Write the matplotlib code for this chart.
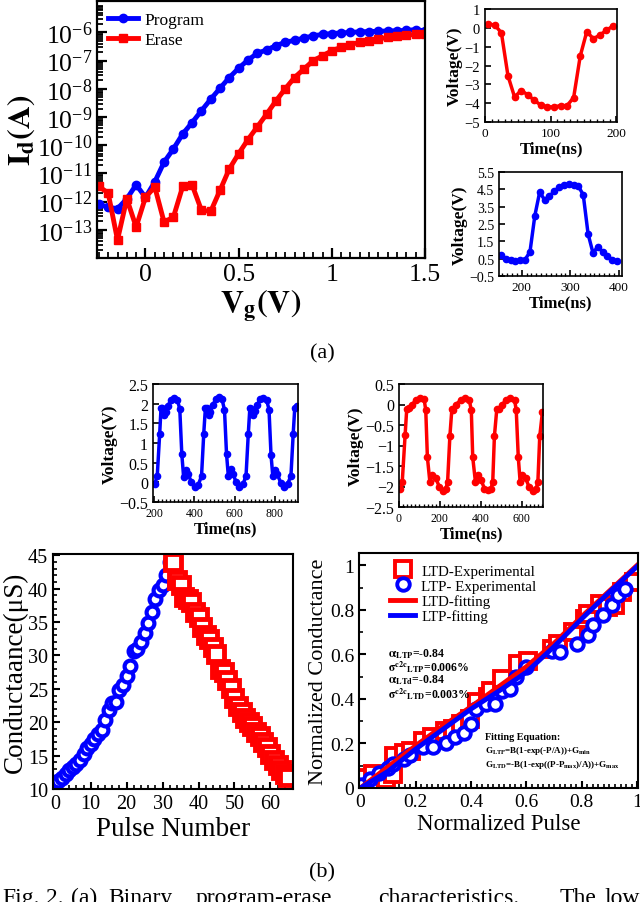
import matplotlib
matplotlib.use("Agg")
import matplotlib.pyplot as plt
from matplotlib.ticker import AutoMinorLocator, FuncFormatter, LogLocator, MultipleLocator, NullFormatter
import numpy as np

plt.rcParams["font.family"] = ["Liberation Serif", "DejaVu Serif"]
plt.rcParams["mathtext.fontset"] = "stix"

W, H = 640, 903
BLUE = "#0000ff"
RED = "#ff0000"

# (a) Id-Vg transfer curves
vg = [-0.25, -0.2, -0.15, -0.1, -0.05, 0.0, 0.05, 0.1, 0.15, 0.2, 0.25, 0.3, 0.35, 0.4, 0.45, 0.5,
      0.55, 0.6, 0.65, 0.7, 0.75, 0.8, 0.85, 0.9, 0.95, 1.0, 1.05, 1.1, 1.15, 1.2, 1.25, 1.3,
      1.35, 1.4, 1.45, 1.5]
program_log_id = [-12.1, -12.2, -12.25, -11.9, -11.4, -11.85, -11.3, -10.6, -10.13, -9.6, -9.2, -8.78,
                  -8.37, -7.98, -7.6, -7.27, -6.98, -6.74, -6.62, -6.47, -6.35, -6.28, -6.2, -6.12,
                  -6.07, -6.04, -6.02, -6.0, -5.98, -5.97, -5.96, -5.95, -5.94, -5.93, -5.9, -5.95]
erase_log_id = [-11.46, -11.7, -13.36, -11.9, -12.9, -11.85, -11.48, -12.73, -12.55, -11.46, -11.4,
                -12.3, -12.35, -11.6, -10.84, -10.3, -9.8, -9.35, -8.9, -8.43, -8.0, -7.6, -7.3,
                -7.0, -6.83, -6.65, -6.53, -6.43, -6.35, -6.29, -6.23, -6.18, -6.14, -6.1, -6.07, -6.05]

# (a) erase / program pulse shapes
erase_t = [5, 15, 25, 35, 45, 55, 65, 75, 85, 95, 105, 115, 125, 135, 145, 155, 165, 175, 185, 195]
erase_v = [0.2, 0.15, -0.27, -2.55, -3.67, -3.33, -3.55, -3.85, -4.1, -4.2, -4.2, -4.13, -4.13,
           -3.7, -1.5, -0.2, -0.58, -0.38, -0.13, 0.1]
prog_t = [157, 167, 177, 187, 197, 207, 217, 227, 237, 247, 257, 267, 277, 287, 297, 307, 317,
          327, 337, 347, 357, 367, 377, 387, 397]
prog_v = [0.7, 0.5, 0.4, 0.38, 0.4, 0.45, 0.9, 2.98, 4.34, 3.9, 4.1, 4.38, 4.62, 4.74, 4.78, 4.74,
          4.68, 4.18, 1.92, 0.84, 1.18, 0.9, 0.64, 0.44, 0.34]

# (b) potentiation / depression pulse trains
pot_t = [203, 216, 228, 235, 242, 249, 258, 270, 284, 300, 316, 328, 338, 347, 358, 370, 386, 402, 420,
         436, 447, 455, 463, 471, 480, 492, 506, 522, 538, 550, 560, 569, 580, 592, 608, 624, 642,
         657, 668, 676, 684, 692, 701, 713, 727, 743, 759, 771, 781, 790, 801, 813, 829, 845, 863,
         880, 891, 899, 908]
pot_v = [-0.04, 0.15, 1.22, 1.9, 1.88, 1.7, 1.8, 1.95, 2.1, 2.15, 2.1, 1.86, 0.72, 0.14, 0.32, 0.2, 0.0,
         -0.12, -0.06,
         0.16, 1.24, 1.88, 1.9, 1.7, 1.8, 1.96, 2.11, 2.16, 2.11, 1.84, 0.73, 0.16, 0.33, 0.22, 0.0,
         -0.13, -0.05,
         0.17, 1.22, 1.9, 1.87, 1.72, 1.82, 1.97, 2.12, 2.15, 2.1, 1.85, 0.7, 0.15, 0.31, 0.2, -0.01,
         -0.12, -0.05,
         0.17, 1.22, 1.9, 1.95]
dep_t = [7, 16, 30, 38, 49, 62, 82, 102, 123, 131, 139, 151, 161, 180, 197, 216, 230, 238, 249, 259,
         266, 279, 303, 325, 344, 354, 361, 374, 385, 402, 418, 434, 451, 459, 467, 479, 492, 505,
         525, 544, 566, 574, 584, 593, 603, 620, 636, 656, 672, 680, 689, 702]
dep_v = [-2.05, -1.88, -0.74, -0.1, -0.08, -0.02, 0.11, 0.15, 0.13, -0.14, -1.29, -1.88, -1.71, -1.8,
         -2.0, -2.12, -2.05, -1.88, -0.78, -0.1, -0.14, 0.0, 0.11, 0.15, 0.11, -0.14, -1.29, -1.88,
         -1.71, -1.84, -2.05, -2.09, -2.05, -1.88, -0.78, -0.1, -0.1, 0.0, 0.11, 0.15, 0.11, -0.14,
         -1.29, -1.88, -1.71, -1.8, -2.0, -2.12, -2.05, -1.88, -0.78, -0.19]

# (b) conductance vs pulse number
ltp_n = list(range(1, 34))
ltp_g = [11.2, 11.6, 12.3, 12.9, 13.3, 13.7, 14.3, 15.2, 16.2, 16.8, 17.5, 18.2, 18.8, 20.3, 21.8,
         22.9, 23.0, 24.8, 25.6, 27.0, 28.4, 30.6, 30.9, 32.0, 33.3, 34.8, 36.5, 38.4, 39.8, 40.6,
         42.0, 44.0, 44.0]
ltd_n = list(range(33, 66))
ltd_g = [44.0, 41.3, 40.5, 38.8, 38.5, 38.0, 36.5, 35.8, 34.2, 33.0, 32.5, 31.2, 30.2, 28.0, 27.5,
         26.4, 25.2, 23.7, 22.4, 21.5, 20.6, 20.0, 19.4, 18.6, 18.0, 17.0, 16.3, 15.2, 14.4, 13.6,
         12.9, 12.3, 11.8]

# (b) normalized conductance
ltd_x = [0.012, 0.045, 0.093, 0.117, 0.121, 0.157, 0.184, 0.226, 0.258, 0.304, 0.334, 0.365, 0.395,
         0.423, 0.461, 0.473, 0.51, 0.57, 0.606, 0.691, 0.713, 0.769, 0.812, 0.824, 0.866, 0.896,
         0.92, 0.944, 0.987]
ltd_y = [0.046, 0.061, 0.039, 0.061, 0.144, 0.159, 0.167, 0.212, 0.227, 0.257, 0.264, 0.287, 0.309,
         0.384, 0.407, 0.437, 0.489, 0.557, 0.572, 0.625, 0.647, 0.7, 0.76, 0.782, 0.827, 0.812,
         0.82, 0.88, 0.925]
ltp_x = [0.002, 0.033, 0.069, 0.099, 0.117, 0.159, 0.178, 0.226, 0.262, 0.31, 0.341, 0.374, 0.401,
         0.419, 0.455, 0.485, 0.51, 0.54, 0.564, 0.6, 0.691, 0.721, 0.781, 0.824, 0.841, 0.878,
         0.908, 0.932, 0.956]
ltp_y = [0.012, 0.042, 0.069, 0.092, 0.107, 0.129, 0.147, 0.182, 0.182, 0.201, 0.227, 0.249, 0.287,
         0.354, 0.377, 0.377, 0.437, 0.444, 0.497, 0.542, 0.617, 0.61, 0.647, 0.685, 0.73, 0.775,
         0.82, 0.865, 0.895]
fit_x = [0.0, 0.1, 0.2, 0.3, 0.4, 0.5, 0.6, 0.7, 0.8, 0.9, 1.0]
ltd_fit = [0.0, 0.095, 0.19, 0.28, 0.365, 0.455, 0.545, 0.65, 0.77, 0.885, 1.0]
ltp_fit = [0.0, 0.075, 0.175, 0.265, 0.355, 0.435, 0.52, 0.635, 0.76, 0.88, 0.995]


def px_axes(fig, left, top, right, bottom):
    return fig.add_axes([left / W, 1 - bottom / H, (right - left) / W, (bottom - top) / H])


def style(ax, lw=1.3, major=5, minor=2.5, size=10):
    for s in ax.spines.values():
        s.set_linewidth(lw)
    ax.tick_params(which="both", direction="in", top=False, right=False, labelsize=size)
    ax.tick_params(which="major", length=major, width=lw)
    ax.tick_params(which="minor", length=minor, width=lw * 0.8)


gfmt = FuncFormatter(lambda v, p: f"{v:g}".replace("-", "\u2212"))


def plot_transfer(fig):
    ax = px_axes(fig, 97, 2, 425, 259)
    ax.plot(vg, 10 ** np.array(program_log_id), "-o", color=BLUE, lw=3.5, ms=6, label="Program")
    ax.plot(vg, 10 ** np.array(erase_log_id), "-s", color=RED, lw=3.5, ms=6, label="Erase")
    ax.set_yscale("log")
    ax.set_xlim(-0.26, 1.5)
    ax.set_ylim(1e-14, 1.3e-5)
    ax.set_yticks([10.0 ** k for k in range(-13, -5)])
    ax.yaxis.set_minor_locator(LogLocator(base=10, subs=np.arange(2, 10) * 1.0, numticks=30))
    ax.yaxis.set_minor_formatter(NullFormatter())
    ax.set_xticks([0, 0.5, 1, 1.5])
    ax.xaxis.set_major_formatter(gfmt)
    ax.xaxis.set_minor_locator(MultipleLocator(0.05))
    style(ax, lw=1.6, major=7, minor=4, size=18.5)
    ax.set_xlabel(r"$\mathbf{V_g(V)}$", fontsize=23, labelpad=2)
    ax.set_ylabel(r"$\mathbf{I_d(A)}$", fontsize=23, labelpad=0)
    ax.legend(loc="upper left", bbox_to_anchor=(0, 1), borderaxespad=0.45, frameon=False,
              fontsize=12.5, handlelength=1.7, handletextpad=0.4, labelspacing=0.2, borderpad=0.2)


def plot_small(fig, box, t, v, color, xlim, ylim, xticks, yticks, ysize=10, xsize=9):
    ax = px_axes(fig, *box)
    ax.plot(t, v, "-o", color=color, lw=2.5, ms=4.5)
    ax.set_xlim(*xlim)
    ax.set_ylim(*ylim)
    ax.set_xticks(xticks)
    ax.set_yticks(yticks)
    ax.xaxis.set_major_formatter(gfmt)
    ax.yaxis.set_major_formatter(gfmt)
    ax.xaxis.set_minor_locator(AutoMinorLocator(10))
    style(ax, lw=1.2, major=4, minor=2, size=ysize)
    ax.tick_params(axis="x", labelsize=xsize)
    ax.set_xlabel("Time(ns)", fontsize=12, fontweight="bold", labelpad=1)
    ax.set_ylabel("Voltage(V)", fontsize=12.5, fontweight="bold", labelpad=1)
    return ax


def plot_conductance(fig):
    ax = px_axes(fig, 53, 555, 293, 790)
    ax.plot(ltp_n, ltp_g, "o", ms=8.5, mfc="white", mec=BLUE, mew=3, ls="none")
    ax.plot(ltd_n, ltd_g, "s", ms=11, mfc="white", mec=RED, mew=3.5, ls="none")
    ax.set_xlim(-0.5, 66.3)
    ax.set_ylim(10, 45.2)
    ax.set_xticks(range(0, 61, 10))
    ax.set_yticks(range(10, 46, 5))
    ax.xaxis.set_minor_locator(MultipleLocator(2))
    ax.yaxis.set_minor_locator(MultipleLocator(1))
    style(ax, lw=1.5, major=5, minor=3, size=14.5)
    ax.set_xlabel("Pulse Number", fontsize=19.5, labelpad=2)
    ax.set_ylabel("Conductaance(\u03bcS)", fontsize=19.5, labelpad=0)


def plot_normalized(fig):
    ax = px_axes(fig, 359, 554, 638, 789)
    ax.plot(ltd_x, ltd_y, "s", ms=12, mfc="white", mec=RED, mew=2.8, ls="none", label="LTD-Experimental")
    ax.plot(ltp_x, ltp_y, "o", ms=9, mfc="white", mec=BLUE, mew=2.8, ls="none", label="LTP- Experimental")
    ax.plot(fit_x, ltd_fit, "-", color=RED, lw=3.5, label="LTD-fitting")
    ax.plot(fit_x, ltp_fit, "-", color=BLUE, lw=3.5, label="LTP-fitting")
    ax.set_xlim(-0.005, 1.003)
    ax.set_ylim(0, 1.055)
    ax.set_xticks([0, 0.2, 0.4, 0.6, 0.8, 1.0])
    ax.set_yticks([0, 0.2, 0.4, 0.6, 0.8, 1.0])
    ax.xaxis.set_major_formatter(gfmt)
    ax.yaxis.set_major_formatter(gfmt)
    ax.xaxis.set_minor_locator(MultipleLocator(0.02))
    ax.yaxis.set_minor_locator(MultipleLocator(0.1))
    style(ax, lw=1.5, major=5, minor=3, size=14)
    ax.set_xlabel("Normalized Pulse", fontsize=16.5, labelpad=2)
    ax.set_ylabel("Normalized Conductance", fontsize=16, labelpad=1)
    ax.legend(loc="upper left", bbox_to_anchor=(0.1, 0.965), frameon=False, fontsize=10.8,
              handlelength=1.7, handletextpad=0.4, labelspacing=0.1, borderpad=0.2, borderaxespad=0)
    stats = [r"$\mathbf{\alpha}_{\mathbf{LTP}}$=-0.84",
             r"$\mathbf{\sigma}^{\mathbf{c2c}}$$_{\mathbf{LTP}}$=0.006%",
             r"$\mathbf{\alpha}_{\mathbf{LTd}}$=-0.84",
             r"$\mathbf{\sigma}^{\mathbf{c2c}}$$_{\mathbf{LTD}}$=0.003%"]
    for i, s in enumerate(stats):
        ax.text(0.1, 0.607 - i * 0.06, s, fontsize=8.5, fontweight="bold", va="center")
    ax.text(0.449, 0.232, "Fitting Equation:", fontsize=7.3, fontweight="bold", va="center")
    eqs = [r"G$_{\mathbf{LTP}}$=B(1-exp(-P/A))+G$_{\mathbf{min}}$",
           r"G$_{\mathbf{LTD}}$=-B(1-exp((P-P$_{\mathbf{max}}$)/A))+G$_{\mathbf{max}}$"]
    for i, s in enumerate(eqs):
        ax.text(0.449, 0.169 - i * 0.06, s, fontsize=6.5, fontweight="bold", va="center")


def main():
    fig = plt.figure(figsize=(6.4, 9.03), dpi=100)
    plot_transfer(fig)
    plot_small(fig, (485, 10, 617, 123), erase_t, erase_v, RED, (0, 201), (-5, 1),
               [0, 100, 200], range(-5, 2), ysize=10.5, xsize=9.5)
    plot_small(fig, (499, 173, 622, 277), prog_t, prog_v, BLUE, (153, 407), (-0.5, 5.5),
               [200, 300, 400], [-0.5, 0.5, 1.5, 2.5, 3.5, 4.5, 5.5], ysize=10, xsize=9.5)
    plot_small(fig, (153, 385, 298, 503), pot_t, pot_v, BLUE, (195, 915), (-0.5, 2.5),
               [200, 400, 600, 800], [-0.5, 0, 0.5, 1, 1.5, 2, 2.5], ysize=11.5, xsize=8.5)
    plot_small(fig, (399, 385, 543, 508), dep_t, dep_v, RED, (0, 705), (-2.5, 0.5),
               [0, 200, 400, 600], [-2.5, -2, -1.5, -1, -0.5, 0, 0.5], ysize=11.5, xsize=8.5)
    plot_conductance(fig)
    plot_normalized(fig)

    fig.text(322 / W, 1 - 354 / H, "(a)", fontsize=16, ha="center", va="center")
    fig.text(322 / W, 1 - 873 / H, "(b)", fontsize=16, ha="center", va="center")
    words = ["Fig.", "2.", "(a)", "Binary", "program-erase", "characteristics.", "The", "low"]
    word_x = [2, 46, 71, 108, 196, 378, 560, 604]
    for x, w in zip(word_x, words):
        fig.text(x / W, 1 - 888 / H, w, fontsize=17, ha="left", va="top")

    fig.savefig("out.png", dpi=100)
    plt.close(fig)


if __name__ == "__main__":
    main()
